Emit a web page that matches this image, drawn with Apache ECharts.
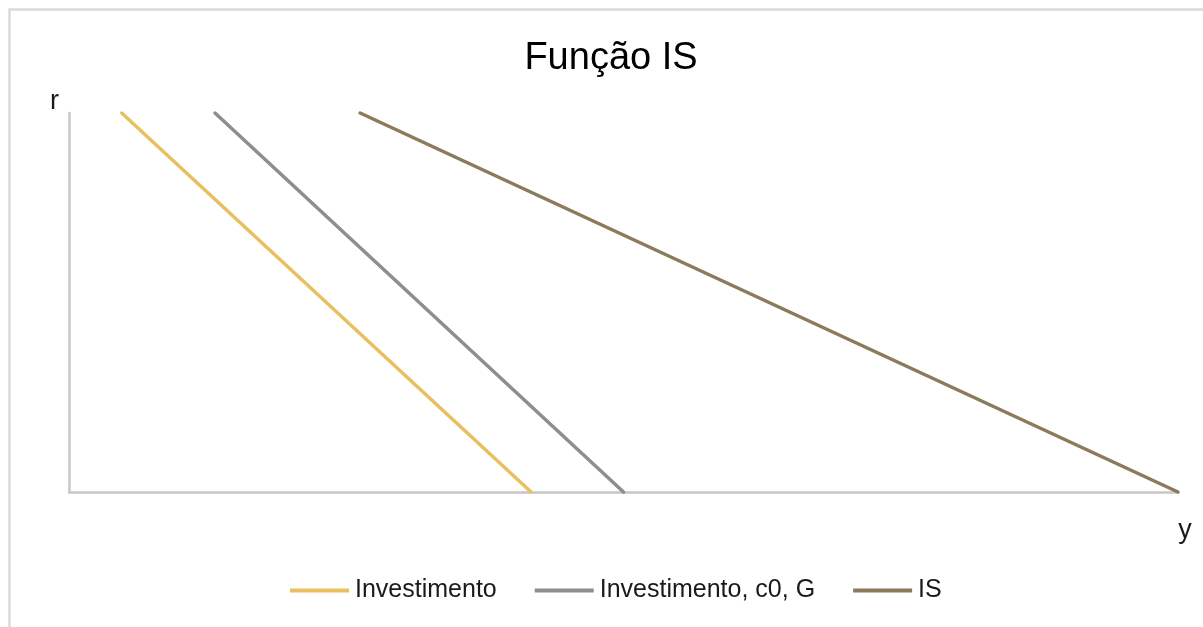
<!DOCTYPE html>
<html>
<head>
<meta charset="utf-8">
<title>Função IS</title>
<script src="https://cdn.jsdelivr.net/npm/echarts@6/dist/echarts.min.js"></script>
<style>
  html, body { margin: 0; padding: 0; background: #ffffff; }
  #chart { width: 1203px; height: 627px; }
</style>
</head>
<body>
<div id="chart"></div>
<script>
// Interest rate r at the two ends of each schedule
const rPoints = [0, 10];
// Output y reached by each schedule at those rates
const yInvestimento = [5.0, 0.57];
const yInvestimentoC0G = [6.0, 1.58];
const yIS = [12.0, 3.15];

const seriesNames = ['Investimento', 'Investimento, c0, G', 'IS'];
const seriesColors = ['#E9BF60', '#8E8F8B', '#8B7B5B'];
const seriesValues = [yInvestimento, yInvestimentoC0G, yIS];

const FONT = '"Liberation Sans", Arial, sans-serif';

const chart = echarts.init(document.getElementById('chart'), null, { renderer: 'canvas' });

chart.setOption({
  backgroundColor: '#ffffff',
  animation: false,
  graphic: [{
    type: 'rect',
    left: 7, top: 7,
    shape: { width: 1400, height: 800 },
    style: { fill: 'none', stroke: '#d9d9d9', lineWidth: 2.5 },
    silent: true
  }],
  title: {
    text: 'Função IS',
    left: 606,
    textAlign: 'center',
    top: 35,
    textStyle: { fontFamily: FONT, fontSize: 38, fontWeight: 'normal', color: '#000000' }
  },
  legend: {
    bottom: 19,
    left: 285,
    itemWidth: 59,
    itemHeight: 4,
    itemGap: 38,
    icon: 'rect',
    textStyle: { fontFamily: FONT, fontSize: 25, color: '#1a1a1a', padding: [0, 0, 0, 1] },
    data: seriesNames
  },
  grid: { left: 69, right: 25, top: 113, bottom: 135, containLabel: false },
  xAxis: {
    type: 'value',
    min: 0, max: 12,
    name: 'y',
    nameLocation: 'end',
    nameGap: 7,
    nameTextStyle: { fontFamily: FONT, fontSize: 27, color: '#1a1a1a', align: 'center', verticalAlign: 'top', padding: [25, 0, 0, 0] },
    axisLine: { show: true, lineStyle: { color: '#c6c6c6', width: 2.5 } },
    axisTick: { show: false },
    axisLabel: { show: false },
    splitLine: { show: false }
  },
  yAxis: {
    type: 'value',
    min: 0, max: 10,
    name: 'r',
    nameLocation: 'end',
    nameGap: -2,
    nameTextStyle: { fontFamily: FONT, fontSize: 27, color: '#1a1a1a', align: 'right', verticalAlign: 'bottom', padding: [0, 10, 0, 0] },
    axisLine: { show: true, lineStyle: { color: '#c6c6c6', width: 2.5 } },
    axisTick: { show: false },
    axisLabel: { show: false },
    splitLine: { show: false }
  },
  series: seriesNames.map((name, i) => ({
    name: name,
    type: 'line',
    data: seriesValues[i].map((yv, k) => [yv, rPoints[k]]),
    showSymbol: false,
    symbol: 'none',
    clip: false,
    lineStyle: { color: seriesColors[i], width: 3.5, cap: 'round' },
    itemStyle: { color: seriesColors[i] }
  }))
});
</script>
</body>
</html>
